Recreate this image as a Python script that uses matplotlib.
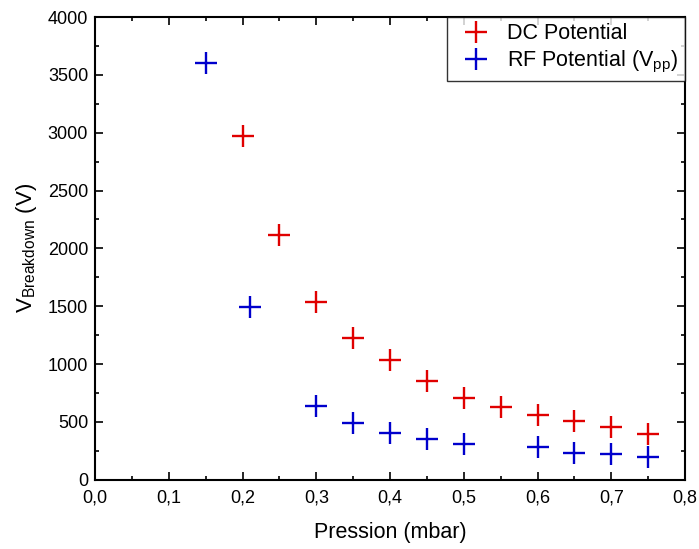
import matplotlib
matplotlib.use("Agg")
import matplotlib.pyplot as plt
from matplotlib.ticker import MultipleLocator, FuncFormatter

# donnees
p_dc = [0.20, 0.25, 0.30, 0.35, 0.40, 0.45, 0.50, 0.55, 0.60, 0.65, 0.70, 0.75]
v_dc = [2970, 2120, 1540, 1230, 1035, 850, 710, 630, 560, 505, 455, 400]
p_rf = [0.15, 0.21, 0.30, 0.35, 0.40, 0.45, 0.50, 0.60, 0.65, 0.70, 0.75]
v_rf = [3600, 1490, 635, 490, 405, 350, 310, 280, 232, 222, 200]

plt.rcParams['font.family'] = ['Liberation Sans', 'DejaVu Sans']
plt.rcParams['mathtext.fontset'] = 'custom'
plt.rcParams['mathtext.rm'] = 'Liberation Sans'
plt.rcParams['mathtext.it'] = 'Liberation Sans'

fig = plt.figure(figsize=(6.99, 5.49), dpi=100)
ax = fig.add_axes([0.136, 0.126, 0.844, 0.843])

ax.plot(p_dc, v_dc, '+', color='#e00000', ms=16, mew=1.7, label='DC Potential')
ax.plot(p_rf, v_rf, '+', color='#0000cc', ms=16, mew=1.7, label=r'RF Potential (V$_{\mathrm{pp}}$)')

ax.set_xlim(0, 0.8)
ax.set_ylim(0, 4000)
ax.xaxis.set_major_locator(MultipleLocator(0.1))
ax.xaxis.set_minor_locator(MultipleLocator(0.05))
ax.yaxis.set_major_locator(MultipleLocator(500))
ax.yaxis.set_minor_locator(MultipleLocator(250))
ax.xaxis.set_major_formatter(FuncFormatter(lambda v, pos: f"{v:.1f}".replace('.', ',')))

ax.tick_params(which='both', direction='in', top=True, right=True, labelsize=13, width=1.2)
ax.tick_params(which='major', length=6)
ax.tick_params(axis='x', which='major', pad=7)
ax.tick_params(axis='y', which='major', pad=5)
ax.tick_params(which='minor', length=3)
for s in ax.spines.values():
    s.set_linewidth(1.5)

ax.set_xlabel('Pression (mbar)', fontsize=15.5, labelpad=11)
ax.set_ylabel(r'V$_{\mathrm{Breakdown}}$ (V)', fontsize=16, labelpad=6)

leg = ax.legend(loc='upper right', fontsize=15.5, fancybox=False, edgecolor='black',
                borderaxespad=0, handlelength=2.1, handletextpad=0.4,
                borderpad=0.3, labelspacing=0.2)
leg.get_frame().set_linewidth(1.0)

fig.savefig('out.png', dpi=100)
